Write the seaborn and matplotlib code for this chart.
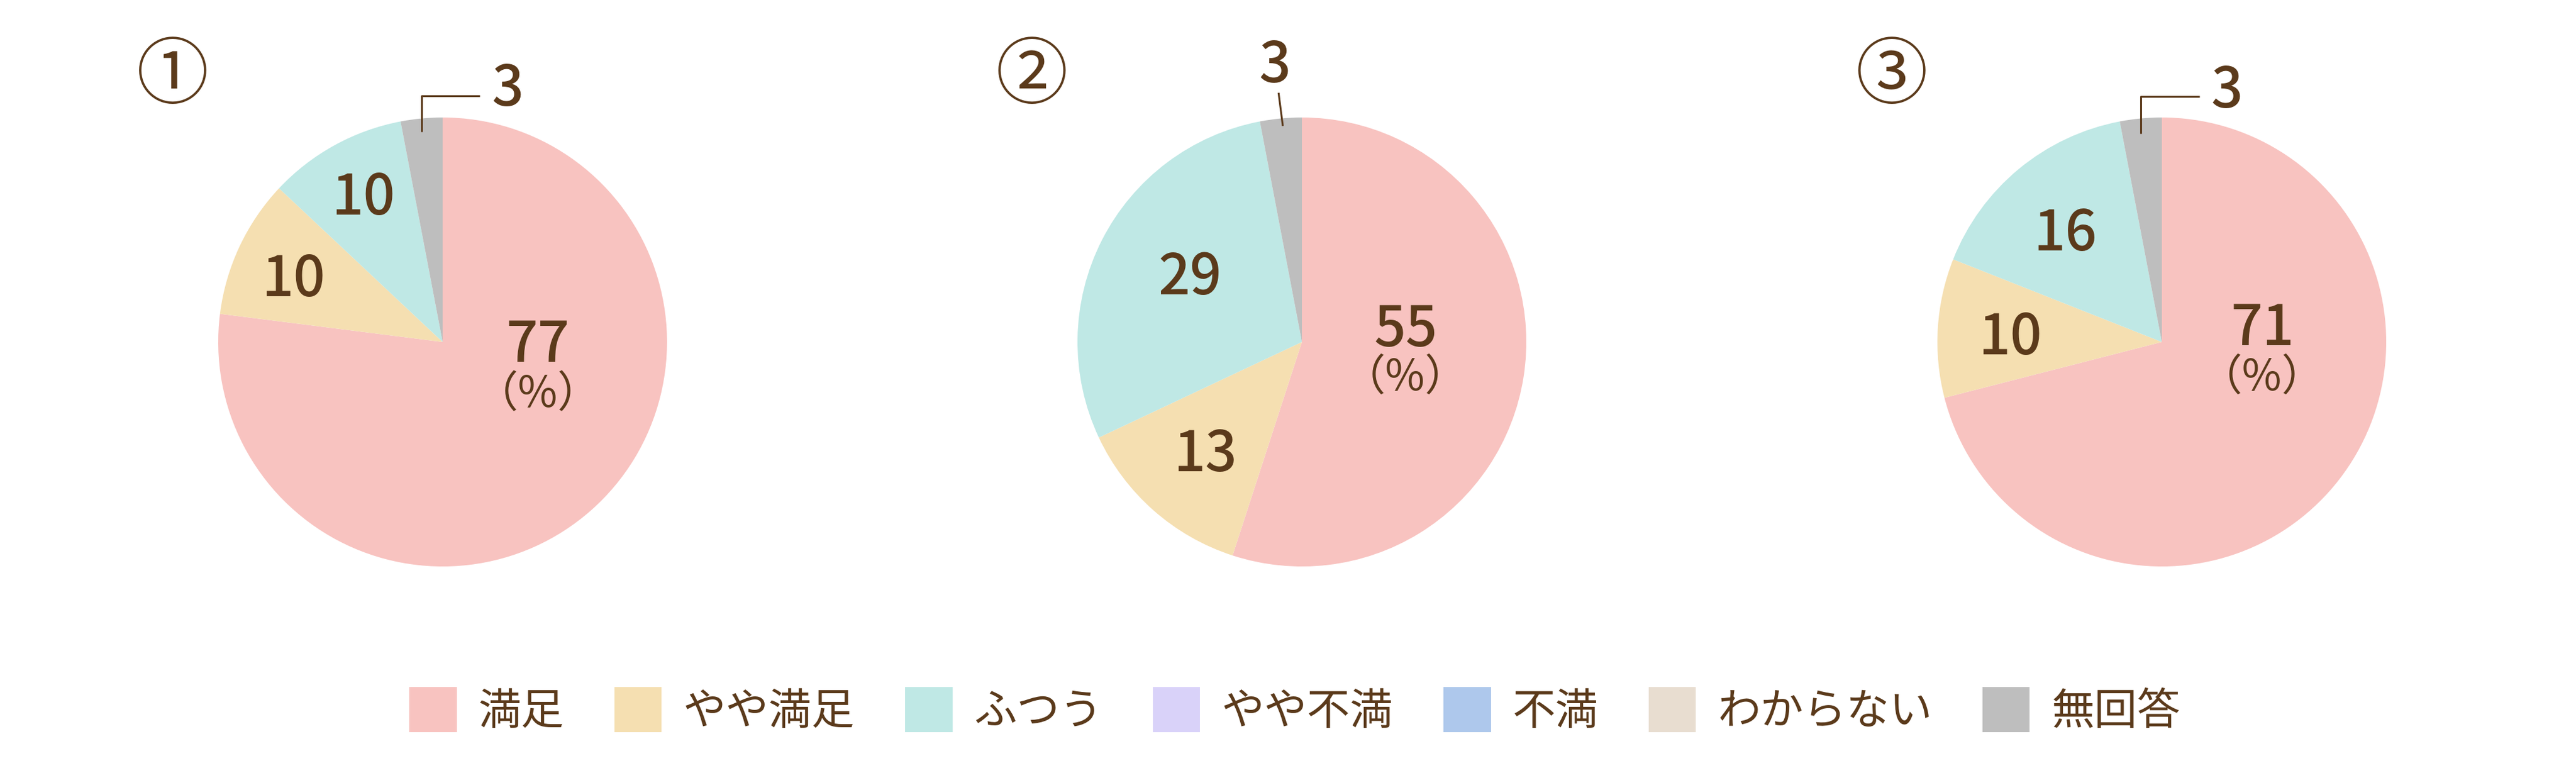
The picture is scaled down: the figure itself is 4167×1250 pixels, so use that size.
import matplotlib
matplotlib.use("Agg")
import matplotlib.pyplot as plt
import seaborn as sns

# ---------------- data ----------------
categories = ["満足", "やや満足", "ふつう", "やや不満", "不満", "わからない", "無回答"]
chart_ids = ["①", "②", "③"]
values_1 = [77, 10, 10, 0, 0, 0, 3]
values_2 = [55, 13, 29, 0, 0, 0, 3]
values_3 = [71, 10, 16, 0, 0, 0, 3]
series = [values_1, values_2, values_3]
unit_label = "（%）"

# ---------------- style ----------------
palette = sns.color_palette(["#F8C3C0", "#F5DFB1", "#BFE8E5", "#D9D2F9",
                             "#AEC8EC", "#E8DDD0", "#BEBEBE"])
TEXT = "#5B3A1B"

sns.set_theme(style="white")
plt.rcParams["font.family"] = ["Noto Sans CJK JP", "DejaVu Sans"]

W, H = 4167, 1250
fig = plt.figure(figsize=(W / 100, H / 100), dpi=100)
fig.patch.set_facecolor("white")

R_PX = 363          # pie radius in pixels
HALF = 560          # half size of each axes in pixels
centers_x = [716, 2106, 3497]
center_y = 553      # from top
NUM_SIZE = 65
CAP_PX = 66         # digit cap height in pixels
base_off = CAP_PX / 2 / R_PX

# label layout: visual centres (axes data units, pie radius = 1)
layouts = [
    {"inner": {0: (0.424, 0.003), 1: (-0.665, 0.294), 2: (-0.352, 0.659)},
     "pct": (0.424, -0.235), "small": (0.291, 1.143),
     "leader": [(-0.093, 0.937), (-0.093, 1.096), (0.165, 1.096)]},
    {"inner": {0: (0.462, 0.071), 2: (-0.500, 0.302), 1: (-0.431, -0.484)},
     "pct": (0.462, -0.160), "small": (-0.121, 1.247),
     "leader": [(-0.085, 0.962), (-0.104, 1.110)]},
    {"inner": {0: (0.448, 0.077), 2: (-0.431, 0.500), 1: (-0.676, 0.036)},
     "pct": (0.448, -0.160), "small": (0.291, 1.135),
     "leader": [(-0.093, 0.929), (-0.093, 1.093), (0.168, 1.093)]},
]

lim = HALF / R_PX
legend_handles = None
for i, vals in enumerate(series):
    cx = centers_x[i]
    ax = fig.add_axes([(cx - HALF) / W, (H - center_y - HALF) / H,
                       2 * HALF / W, 2 * HALF / H])
    wedges, _ = ax.pie(vals, colors=palette, startangle=90,
                       counterclock=False, radius=1,
                       wedgeprops=dict(linewidth=0, antialiased=True))
    if legend_handles is None:
        legend_handles = wedges
    ax.set_xlim(-lim, lim)
    ax.set_ylim(-lim, lim)
    ax.set_aspect("equal")
    ax.axis("off")

    lay = layouts[i]
    for idx, (x, y) in lay["inner"].items():
        ax.text(x, y - base_off, str(vals[idx]), fontsize=NUM_SIZE,
                fontweight="medium", color=TEXT,
                ha="center", va="baseline", clip_on=False)
    px, py = lay["pct"]
    ax.text(px, py, unit_label, fontsize=50, color=TEXT,
            ha="center", va="center", clip_on=False)
    sx, sy = lay["small"]
    ax.text(sx, sy - base_off, str(vals[-1]), fontsize=NUM_SIZE,
            fontweight="medium", color=TEXT,
            ha="center", va="baseline", clip_on=False)
    lx = [p[0] for p in lay["leader"]]
    ly = [p[1] for p in lay["leader"]]
    ax.plot(lx, ly, color=TEXT, linewidth=2.2, solid_capstyle="butt",
            clip_on=False)
    ax.text(-1.203, 1.179, chart_ids[i], fontsize=84, color=TEXT,
            ha="center", va="center", clip_on=False)

fig.legend(legend_handles, categories, loc="center",
           bbox_to_anchor=(0.5026, 0.081), ncol=7, frameon=False,
           fontsize=50, handlelength=1.1, handleheight=1.25,
           handletextpad=0.5, columnspacing=1.17, labelcolor=TEXT)

fig.savefig("out.png", dpi=100, facecolor="white")
